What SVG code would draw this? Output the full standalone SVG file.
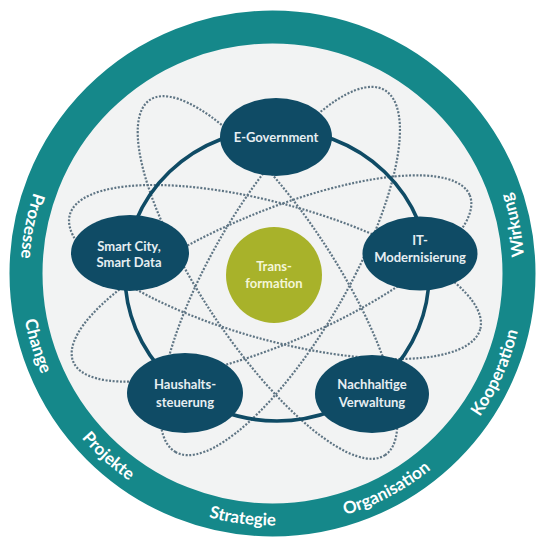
<svg xmlns="http://www.w3.org/2000/svg" width="538" height="538" viewBox="0 0 538 538">
<defs>
<style>
.ring{fill:none;stroke:#15888a;stroke-width:33}
.disc{fill:#f2f3f3}
.rt{font-family:Lato,"Open Sans","Liberation Sans",sans-serif;font-weight:700;font-size:17px;fill:#ffffff}
.orb{fill:none;stroke:#5f7584;stroke-width:2.2;stroke-dasharray:2 1.6}
.link{fill:none;stroke:#0f4b65;stroke-width:3.6}
.node{fill:#0f4b65}
.nt{font-family:Lato,"Open Sans","Liberation Sans",sans-serif;font-weight:700;font-size:13px;fill:#e6eef2;text-anchor:middle}
.core{fill:#a8b22a}
.ct{font-family:Lato,"Open Sans","Liberation Sans",sans-serif;font-weight:700;font-size:13px;fill:#f4f6d8;text-anchor:middle}
</style>
<path id="rp" d="M110.52,80.46 A252,252 0 1 0 434.48,80.46"/>
</defs>
<rect width="538" height="538" fill="#ffffff"/>
<g id="ring">
<circle class="disc" cx="272.5" cy="273.5" r="231"/>
<circle class="ring" cx="272.5" cy="273.5" r="246.5"/>
<text class="rt" text-anchor="middle"><textPath href="#rp" startOffset="171">Prozesse</textPath></text>
<text class="rt" text-anchor="middle"><textPath href="#rp" startOffset="295">Change</textPath></text>
<text class="rt" text-anchor="middle"><textPath href="#rp" startOffset="431">Projekte</textPath></text>
<text class="rt" text-anchor="middle"><textPath href="#rp" startOffset="585">Strategie</textPath></text>
<text class="rt" text-anchor="middle"><textPath href="#rp" startOffset="738">Organisation</textPath></text>
<text class="rt" text-anchor="middle"><textPath href="#rp" startOffset="906">Kooperation</textPath></text>
<text class="rt" text-anchor="middle"><textPath href="#rp" startOffset="1061">Wirkung</textPath></text>
</g>
<g id="connectors">
<ellipse class="orb" cx="275" cy="272" rx="213" ry="68" transform="rotate(15.6 275 272)"/>
<ellipse class="orb" cx="271.5" cy="278.5" rx="215" ry="66" transform="rotate(-22.8 271.5 278.5)"/>
<ellipse class="orb" cx="267.5" cy="277.5" rx="213" ry="66" transform="rotate(56.5 267.5 277.5)"/>
<ellipse class="orb" cx="280" cy="271" rx="209" ry="68" transform="rotate(120 280 271)"/>
<ellipse class="link" cx="277" cy="275" rx="152" ry="146"/>
</g>
<g id="egov">
<ellipse class="node" cx="276" cy="137" rx="56" ry="39"/>
<text class="nt" x="276" y="141.5">E-Government</text>
</g>
<g id="smartcity">
<ellipse class="node" cx="130" cy="253" rx="59" ry="38"/>
<text class="nt" x="129" y="250.5">Smart City,</text>
<text class="nt" x="129" y="267">Smart Data</text>
</g>
<g id="itmod">
<ellipse class="node" cx="420" cy="253.5" rx="57.5" ry="37"/>
<text class="nt" x="420" y="245">IT-</text>
<text class="nt" x="420" y="262">Modernisierung</text>
</g>
<g id="haushalt">
<ellipse class="node" cx="185" cy="393" rx="58" ry="40"/>
<text class="nt" x="185" y="389">Haushalts-</text>
<text class="nt" x="185" y="407">steuerung</text>
</g>
<g id="nachhaltig">
<ellipse class="node" cx="372" cy="394" rx="57" ry="39"/>
<text class="nt" x="372" y="389">Nachhaltige</text>
<text class="nt" x="372" y="407">Verwaltung</text>
</g>
<g id="transformation">
<circle class="core" cx="274" cy="275" r="48"/>
<text class="ct" x="274" y="271">Trans-</text>
<text class="ct" x="274" y="288">formation</text>
</g>
</svg>
